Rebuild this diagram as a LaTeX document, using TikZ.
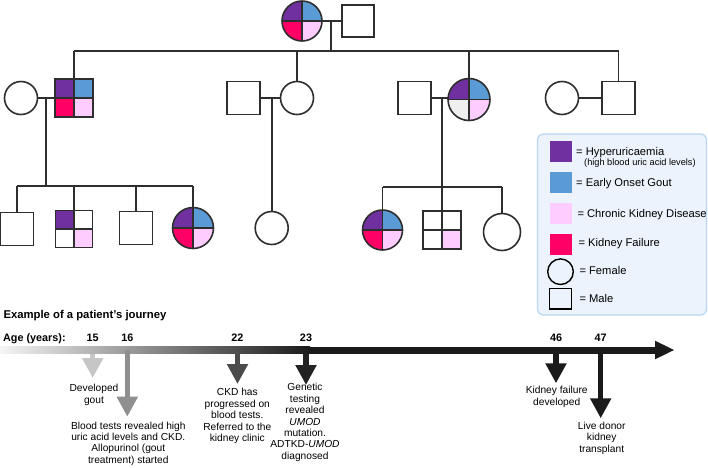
\documentclass[tikz,border=0pt]{standalone}
\usepackage{fontspec}
\setmainfont{Liberation Sans}
\usetikzlibrary{arrows.meta}
\definecolor{pur}{HTML}{7030A0}
\definecolor{blu}{HTML}{5B9BD5}
\definecolor{pnk}{HTML}{FFCCFF}
\definecolor{mag}{HTML}{FF0066}
\definecolor{lgr}{HTML}{EFEFEF}
\definecolor{ln}{HTML}{2E2E2E}
\definecolor{legfill}{HTML}{ECF3FC}
\definecolor{legdraw}{HTML}{B8D7F2}
\definecolor{tlk}{HTML}{1A1A1A}
\definecolor{c15}{HTML}{C6C6C6}
\definecolor{c16}{HTML}{8F8F8F}
\definecolor{c22}{HTML}{4B4B4B}
\definecolor{c23}{HTML}{222222}
\tikzset{
  pl/.style={draw=ln, line width=1.6pt},
  sq/.style={rectangle, inner sep=0pt, outer sep=0pt, minimum size=33pt},
  ci/.style={circle, inner sep=0pt, outer sep=0pt, minimum size=33pt},
  sw/.style={rectangle, inner sep=0pt, outer sep=0pt, minimum width=21.7pt, minimum height=20.7pt},
  lt/.style={anchor=base west, inner sep=0pt, font=\fontsize{11.2}{13}\selectfont},
  ls/.style={anchor=base west, inner sep=0pt, font=\fontsize{9.2}{11}\selectfont},
  num/.style={anchor=base, inner sep=0pt, font=\bfseries\fontsize{10.8}{13}\selectfont},
  tarr/.style={line width=5.5pt, -{Triangle[width=20pt,length=20pt]}},
  tt/.style={align=center, inner sep=0pt, anchor=north, font=\fontsize{10.2}{11.4}\selectfont},
}
\newcommand{\qsq}[7]{%
  \node[sq, minimum size=#3] (#1) at (#2) {};
  \fill[#4] (#1.north west) rectangle (#1.center);
  \fill[#5] (#1.north east) rectangle (#1.center);
  \fill[#6] (#1.south west) rectangle (#1.center);
  \fill[#7] (#1.south east) rectangle (#1.center);
  \draw[pl] (#1.north) -- (#1.south) (#1.west) -- (#1.east);
  \draw[pl] (#1.north west) rectangle (#1.south east);
}
\newcommand{\qci}[7]{%
  \node[ci, minimum size=#3] (#1) at (#2) {};
  \begin{scope}
    \clip (#1.center) circle[radius=#3/2];
    \fill[#4] (#1.west |- #1.north) rectangle (#1.center);
    \fill[#5] (#1.east |- #1.north) rectangle (#1.center);
    \fill[#6] (#1.west |- #1.south) rectangle (#1.center);
    \fill[#7] (#1.east |- #1.south) rectangle (#1.center);
  \end{scope}
  \draw[pl] (#1.north) -- (#1.south) (#1.west) -- (#1.east);
  \draw[pl] (#1.center) circle[radius=#3/2];
}
\begin{document}
\begin{tikzpicture}[x=1pt, y=1pt]
\useasboundingbox (0,0) rectangle (708,-467);
\fill[white] (0,0) rectangle (708,-467);

% ---------- generation 1 ----------
\qci{gm}{302,-21}{40}{pur}{blu}{mag}{pnk}
\node[sq, pl, minimum size=32] (gf) at (358,-21) {};
\draw[pl] (gm.east) -- (gf.west);
\coordinate (c0) at (331,-21);
\coordinate (b1) at (0,-50.7);
\draw[pl] (c0) -- (c0 |- b1);

% ---------- generation 2 ----------
\node[ci, pl] (fA) at (21,-98) {};
\qsq{mA}{74,-98}{38}{pur}{blu}{mag}{pnk}
\node[sq, pl] (mB) at (243.5,-98) {};
\node[ci, pl] (fB) at (297,-98) {};
\node[sq, pl] (mC) at (414.5,-98) {};
\qci{fC}{469,-99.5}{42}{pur}{blu}{lgr}{pnk}
\node[ci, pl] (fD) at (562,-98) {};
\node[sq, pl] (mD) at (618.5,-98) {};

\draw[pl] (mA.north |- b1) -- (mD.north |- b1);
\foreach \n in {mA,fB,fC,mD} \draw[pl] (\n.north) -- (\n.north |- b1);

\draw[pl] (fA.east) -- (mA.west);
\draw[pl] (mB.east) -- (fB.west);
\draw[pl] (mC.east) -- (mC.east -| fC.west);
\draw[pl] (fD.east) -- (mD.west);
\coordinate (cA) at (45.7,-98);
\coordinate (cB) at (271.7,-98);
\coordinate (cC) at (441.7,-98);

% ---------- generation 3 ----------
\coordinate (b2) at (0,-186);
\coordinate (b3) at (0,-186.7);
\node[sq, pl] (k1) at (17,-229) {};
\qsq{k2}{74,-229}{37}{pur}{white}{white}{pnk}
\node[sq, pl] (k3) at (136,-228) {};
\qci{k4}{193,-228}{41}{pur}{blu}{mag}{pnk}
\node[ci, pl] (kB) at (271.7,-228) {};
\qci{k5}{382.5,-230}{40}{pur}{blu}{mag}{pnk}
\qsq{k6}{442,-230}{38}{white}{white}{white}{pnk}
\node[ci, pl, minimum size=37] (k7) at (502,-232) {};

\draw[pl] (cA) -- (cA |- b2);
\draw[pl] (k1.north |- b2) -- (k4.north |- b2);
\foreach \n in {k1,k2,k3,k4} \draw[pl] (\n.north) -- (\n.north |- b2);
\draw[pl] (cB) -- (kB.north);
\draw[pl] (cC) -- (cC |- b3);
\draw[pl] (k5.north |- b3) -- (k7.north |- b3);
\foreach \n in {k5,k6,k7} \draw[pl] (\n.north) -- (\n.north |- b3);

% ---------- legend ----------
\node[draw=legdraw, fill=legfill, line width=1.2pt, rounded corners=6pt,
      minimum width=169pt, minimum height=181pt, inner sep=0pt, outer sep=0pt] (leg) at (622,-224.5) {};
\node[sw, fill=pur] (s1) at (561,-151.3) {};
\node[sw, fill=blu] (s2) at (561,-182.5) {};
\node[sw, fill=pnk] (s3) at (561,-213.5) {};
\node[sw, fill=mag] (s4) at (561,-244.3) {};
\node[ci, draw=black, line width=1.4pt, minimum size=25.6pt] (lf) at (560.5,-271.7) {};
\node[sq, draw=black, line width=1.4pt, minimum width=22.4pt, minimum height=20.7pt] (lm) at (560.5,-298.7) {};
\node[lt] (l1) at (576,-155.3) {= Hyperuricaemia};
\node[ls] (l1b) at (584,-165.3) {(high blood uric acid levels)};
\node[lt] (l2) at (576,-186) {= Early Onset Gout};
\node[lt] (l3) at (577.3,-217.7) {= Chronic Kidney Disease};
\node[lt] (l4) at (578.3,-246) {= Kidney Failure};
\node[lt] (l5) at (579.3,-274) {= Female};
\node[lt] (l6) at (579.3,-302.3) {= Male};

% ---------- timeline ----------
\node[anchor=base west, inner sep=0pt, font=\bfseries\fontsize{11.3}{13}\selectfont] (title) at (3.3,-318) {Example of a patient's journey};
\node[anchor=base west, inner sep=0pt, font=\bfseries\fontsize{10.8}{13}\selectfont] (age) at (3,-341) {Age (years):};
\node[num] (n15) at (92.7,-341) {15};
\node[num] (n16) at (127.3,-341) {16};
\node[num] (n22) at (237.3,-341) {22};
\node[num] (n23) at (306,-341) {23};
\node[num] (n46) at (556,-341) {46};
\node[num] (n47) at (600.7,-341) {47};

\coordinate (t15) at (92.7,-350);  \coordinate (h15) at (92.7,-378);
\coordinate (t16) at (127.3,-350); \coordinate (h16) at (127.3,-416.7);
\coordinate (t22) at (237.5,-350); \coordinate (h22) at (237.5,-384);
\coordinate (t23) at (306,-350);   \coordinate (h23) at (306,-385);
\coordinate (t46) at (556,-350);   \coordinate (h46) at (556,-383.3);
\coordinate (t47) at (600.7,-350); \coordinate (h47) at (600.7,-418.3);
\draw[tarr, draw=c15] (t15) -- (h15);
\draw[tarr, draw=c22] (t22) -- (h22);
\draw[tarr, draw=c23] (t23) -- (h23);
\draw[tarr, draw=tlk] (t46) -- (h46);
\draw[tarr, draw=tlk] (t47) -- (h47);

\shade[left color=black!4, right color=tlk] (0,-346.5) rectangle (310,-353.5);
\fill[tlk] (309.5,-346.5) rectangle (656,-353.5);
\fill[tlk] (655,-340.7) -- (674,-350) -- (655,-359.3) -- cycle;
\draw[tarr, draw=c16] (t16) -- (h16);

\node[tt] (x15) at (94,-384) {Developed\\gout};
\node[tt] (x16) at (128.3,-421.5) {Blood tests revealed high\\uric acid levels and CKD.\\Allopurinol (gout\\treatment) started};
\node[tt] (x22) at (237.3,-388.3) {CKD has\\progressed on\\blood tests.\\Referred to the\\kidney clinic};
\node[tt] (x23) at (305,-383.3) {Genetic\\testing\\revealed\\\textit{UMOD}\\mutation.\\ADTKD-\textit{UMOD}\\diagnosed};
\node[tt] (x46) at (556.7,-386) {Kidney failure\\developed};
\node[tt] (x47) at (601.7,-421.7) {Live donor\\kidney\\transplant};
\end{tikzpicture}
\end{document}
